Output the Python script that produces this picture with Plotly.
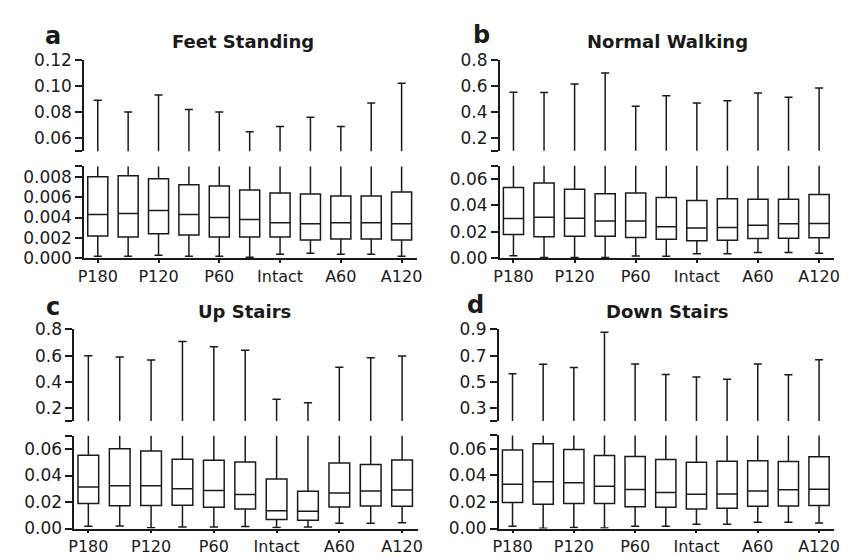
import plotly.graph_objects as go

# ---------------- data ----------------
categories = ["P180", "P150", "P120", "P90", "P60", "P30", "Intact", "A30", "A60", "A90", "A120"]
tick_labels = ["P180", "P120", "P60", "Intact", "A60", "A120"]
tick_positions = [0, 2, 4, 6, 8, 10]

# a  Feet Standing
fs_min = [0.0002, 0.0002, 0.0003, 0.0002, 0.0002, 0.0001, 0.0004, 0.0005, 0.0004, 0.0004, 0.0002]
fs_q1 = [0.0022, 0.0021, 0.0024, 0.0023, 0.0021, 0.0021, 0.0021, 0.0018, 0.0019, 0.0019, 0.0018]
fs_med = [0.0043, 0.0044, 0.0047, 0.0043, 0.0040, 0.0038, 0.0035, 0.0034, 0.0035, 0.0035, 0.0034]
fs_q3 = [0.0080, 0.0081, 0.0078, 0.0072, 0.0071, 0.0067, 0.0064, 0.0063, 0.0061, 0.0061, 0.0065]
fs_max = [0.089, 0.080, 0.093, 0.082, 0.080, 0.065, 0.069, 0.076, 0.069, 0.087, 0.102]

# b  Normal Walking
nw_min = [0.0018, 0.0004, 0.0004, 0.0005, 0.0015, 0.0013, 0.0033, 0.0033, 0.0042, 0.0042, 0.0036]
nw_q1 = [0.0178, 0.0162, 0.0165, 0.0165, 0.0157, 0.0143, 0.0132, 0.0135, 0.0148, 0.0150, 0.0154]
nw_med = [0.0300, 0.0310, 0.0303, 0.0282, 0.0282, 0.0238, 0.0228, 0.0232, 0.0250, 0.0260, 0.0263]
nw_q3 = [0.0535, 0.0570, 0.0522, 0.0488, 0.0494, 0.0460, 0.0437, 0.0450, 0.0447, 0.0447, 0.0482]
nw_max = [0.550, 0.548, 0.614, 0.698, 0.443, 0.523, 0.467, 0.484, 0.545, 0.512, 0.583]

# c  Up Stairs
us_min = [0.0017, 0.0019, 0.0005, 0.0012, 0.0012, 0.0015, 0.0007, 0.0012, 0.0039, 0.0039, 0.0044]
us_q1 = [0.0189, 0.0172, 0.0174, 0.0176, 0.0160, 0.0147, 0.0068, 0.0063, 0.0162, 0.0170, 0.0168]
us_med = [0.0313, 0.0322, 0.0322, 0.0300, 0.0287, 0.0256, 0.0135, 0.0130, 0.0268, 0.0283, 0.0290]
us_q3 = [0.0553, 0.0602, 0.0585, 0.0522, 0.0516, 0.0502, 0.0373, 0.0281, 0.0494, 0.0484, 0.0518]
us_max = [0.598, 0.590, 0.567, 0.707, 0.668, 0.641, 0.266, 0.240, 0.510, 0.583, 0.596]

# d  Down Stairs
ds_min = [0.0017, 0.0002, 0.0007, 0.0003, 0.0017, 0.0017, 0.0032, 0.0032, 0.0047, 0.0047, 0.0042]
ds_q1 = [0.0196, 0.0182, 0.0188, 0.0188, 0.0163, 0.0160, 0.0146, 0.0152, 0.0168, 0.0170, 0.0174]
ds_med = [0.0333, 0.0352, 0.0345, 0.0318, 0.0294, 0.0271, 0.0257, 0.0259, 0.0282, 0.0291, 0.0296]
ds_q3 = [0.0590, 0.0638, 0.0594, 0.0549, 0.0542, 0.0519, 0.0499, 0.0507, 0.0510, 0.0505, 0.0540]
ds_max = [0.562, 0.633, 0.609, 0.878, 0.635, 0.555, 0.536, 0.519, 0.635, 0.553, 0.669]

panel_titles = ["Feet Standing", "Normal Walking", "Up Stairs", "Down Stairs"]
panel_letters = ["a", "b", "c", "d"]

# ---------------- layout helpers ----------------
W, H = 861, 558
FONT = "DejaVu Sans"
INK = "#1a1a1a"


def xd(left, right):
    return [left / W, right / W]


def yd(top, bottom):
    return [1 - bottom / H, 1 - top / H]


panels = [
    dict(stats=(fs_min, fs_q1, fs_med, fs_q3, fs_max), xdom=(71, 408),
         up=(43.3, 138.3), lo=(154, 249.3),
         up_range=[0.05, 0.12], up_ticks=[0.05, 0.06, 0.08, 0.10, 0.12],
         up_text=["", "0.06", "0.08", "0.10", "0.12"],
         lo_range=[0, 0.009], lo_ticks=[0, 0.002, 0.004, 0.006, 0.008, 0.009],
         lo_text=["0.000", "0.002", "0.004", "0.006", "0.008", ""]),
    dict(stats=(nw_min, nw_q1, nw_med, nw_q3, nw_max), xdom=(492, 831),
         up=(43.3, 137.7), lo=(153.3, 249),
         up_range=[0.1, 0.8], up_ticks=[0.1, 0.2, 0.4, 0.6, 0.8],
         up_text=["", "0.2", "0.4", "0.6", "0.8"],
         lo_range=[0, 0.07], lo_ticks=[0, 0.02, 0.04, 0.06, 0.07],
         lo_text=["0.00", "0.02", "0.04", "0.06", ""]),
    dict(stats=(us_min, us_q1, us_med, us_q3, us_max), xdom=(61, 409),
         up=(323, 418), lo=(433.3, 529.5),
         up_range=[0.1, 0.8], up_ticks=[0.1, 0.2, 0.4, 0.6, 0.8],
         up_text=["", "0.2", "0.4", "0.6", "0.8"],
         lo_range=[0, 0.07], lo_ticks=[0, 0.02, 0.04, 0.06, 0.07],
         lo_text=["0.00", "0.02", "0.04", "0.06", ""]),
    dict(stats=(ds_min, ds_q1, ds_med, ds_q3, ds_max), xdom=(491, 831),
         up=(323, 418), lo=(433, 529.5),
         up_range=[0.2, 0.9], up_ticks=[0.2, 0.3, 0.5, 0.7, 0.9],
         up_text=["", "0.3", "0.5", "0.7", "0.9"],
         lo_range=[0, 0.07], lo_ticks=[0, 0.02, 0.04, 0.06, 0.07],
         lo_text=["0.00", "0.02", "0.04", "0.06", ""]),
]

title_pos = [(232, 24), (662, 24), (233, 304), (662, 304)]
letter_pos = [(39, 19), (474, 18), (40, 300), (467, 298)]

fig = go.Figure()
positions = list(range(len(categories)))

ytick_font = dict(family=FONT, size=17, color=INK)
xtick_font = dict(family=FONT, size=16, color=INK)

for i, p in enumerate(panels):
    xn = "x" if i == 0 else f"x{i + 1}"
    ylo = "y" if i == 0 else f"y{2 * i + 1}"
    yup = f"y{2 * i + 2}"
    mn, q1, md, q3, mx = p["stats"]
    for yname in (ylo, yup):
        fig.add_trace(go.Box(
            x=positions, q1=q1, median=md, q3=q3, lowerfence=mn, upperfence=mx,
            xaxis=xn, yaxis=yname, width=0.66, whiskerwidth=0.4,
            fillcolor="rgba(255,255,255,0)", line=dict(color=INK, width=1.5),
            boxpoints=False, showlegend=False, hoverinfo="skip",
        ))

    xkey = "xaxis" if i == 0 else f"xaxis{i + 1}"
    lokey = "yaxis" if i == 0 else f"yaxis{2 * i + 1}"
    upkey = f"yaxis{2 * i + 2}"
    fig.layout[xkey] = dict(
        domain=xd(*p["xdom"]), anchor=ylo, range=[-0.45, 10.5],
        tickvals=tick_positions, ticktext=tick_labels, ticks="outside",
        ticklen=3, tickwidth=1.5, tickcolor=INK, showline=True, linecolor=INK,
        linewidth=1.5, showgrid=False, zeroline=False, tickfont=xtick_font,
        fixedrange=True,
    )
    common = dict(anchor=xn, ticks="outside", ticklen=7, tickwidth=1.5,
                  tickcolor=INK, showline=True, linecolor=INK, linewidth=1.5,
                  showgrid=False, zeroline=False, tickfont=ytick_font,
                  fixedrange=True)
    fig.layout[lokey] = dict(domain=yd(*p["lo"]), range=p["lo_range"],
                             tickvals=p["lo_ticks"], ticktext=p["lo_text"], **common)
    fig.layout[upkey] = dict(domain=yd(*p["up"]), range=p["up_range"],
                             tickvals=p["up_ticks"], ticktext=p["up_text"], **common)

    tx, ty = title_pos[i]
    fig.add_annotation(x=tx / W, y=1 - ty / H, xref="paper", yref="paper",
                       text=f"<b>{panel_titles[i]}</b>", showarrow=False,
                       xanchor="center", yanchor="middle",
                       font=dict(family=FONT, size=18, color=INK))
    lx, ly = letter_pos[i]
    fig.add_annotation(x=lx / W, y=1 - ly / H, xref="paper", yref="paper",
                       text=f"<b>{panel_letters[i]}</b>", showarrow=False,
                       xanchor="center", yanchor="middle",
                       font=dict(family=FONT, size=24, color=INK))

fig.update_layout(
    width=W, height=H, margin=dict(l=0, r=0, t=0, b=0),
    paper_bgcolor="white", plot_bgcolor="white", showlegend=False,
    font=dict(family=FONT, color=INK),
)

fig.write_html("out.html")
